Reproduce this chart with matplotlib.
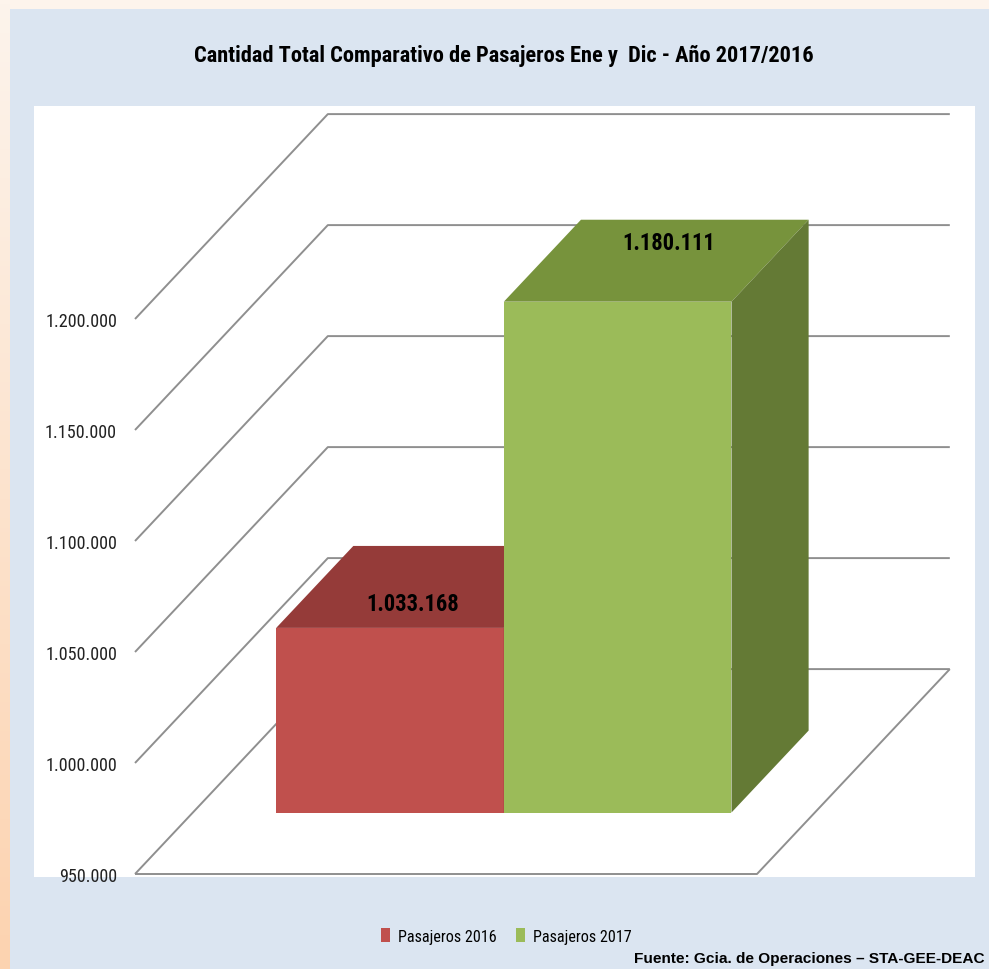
import numpy as np
import matplotlib.pyplot as plt
from matplotlib.patches import Polygon, Rectangle, Patch
from matplotlib.colors import LinearSegmentedColormap
from matplotlib import font_manager
from matplotlib.font_manager import FontProperties
from matplotlib.textpath import TextPath

# data
titulo = 'Cantidad Total Comparativo de Pasajeros Ene y  Dic - Año 2017/2016'
series = ['Pasajeros 2016', 'Pasajeros 2017']
pasajeros = [1033168, 1180111]
ticks = [950000, 1000000, 1050000, 1100000, 1150000, 1200000]
fuente = 'Fuente: Gcia. de Operaciones \u2013 STA-GEE-DEAC'

front_colors = ['#c0504d', '#9bbb59']
top_colors = ['#953b39', '#77933c']
side_colors = ['#7f2f2d', '#647a35']

# pick the narrowest installed sans (the original uses Calibri)
installed = {(f.name, f.stretch) for f in font_manager.fontManager.ttflist}
names = {n for n, _ in installed}
stretch = 'normal'
for cand in ['Liberation Sans Narrow', 'Roboto Condensed', 'Open Sans Condensed']:
    if cand in names:
        font = cand
        break
else:
    if any(n == 'DejaVu Sans' and s in ('condensed', 'semi-condensed', 600, 500)
           for n, s in installed):
        font, stretch = 'DejaVu Sans', 'condensed'
    else:
        font = 'Lato'
narrow = [font, 'DejaVu Sans']


def fit(s, px, weight='normal', fam=None):
    # font size (pt) that makes string s about px pixels wide at 100 dpi
    fp = FontProperties(family=fam or narrow, size=10, weight=weight, stretch=stretch)
    w = TextPath((0, 0), s, prop=fp).get_extents().width
    return 10 * px * 0.72 / w


def fmt(v):
    return f'{v:,}'.replace(',', '.')


# fake 3d: depth shift of the floor, in data units
base = ticks[0]
DX = 0.31
DY = 92300
d0, d1 = 0.30, 0.70          # depth band used by the bars
width = 0.366
label_depth = [0.3, 0.72]     # where the value sits on the top face

fig = plt.figure(figsize=(9.89, 9.70), dpi=100)
fig.patch.set_facecolor('#fdf4ec')

# blue panel + peach strip on the left
fig.add_artist(Rectangle((10 / 989, 0), 1, 960 / 970, transform=fig.transFigure,
                         facecolor='#dbe5f1', edgecolor='none', zorder=0))
strip = fig.add_axes([0, 0, 10 / 989, 1])
peach = LinearSegmentedColormap.from_list('peach', ['#fdf4ec', '#fcd3b0'])
strip.imshow(np.linspace(0, 1, 200).reshape(-1, 1), aspect='auto', cmap=peach)
strip.axis('off')

ax = fig.add_axes([34 / 989, 92 / 970, 941 / 989, 771 / 970])
ax.set_facecolor('white')
ax.set_xlim(-0.1624, 1.3505)
ax.set_ylim(948650, 1295950)

# walls: gridlines run front-left -> back-left -> back-right
grid_kw = dict(color='#8f8f8f', lw=1.4, zorder=1, solid_capstyle='butt')
for v in ticks:
    ax.plot([0, DX, 1 + DX], [v, v + DY, v + DY], **grid_kw)
# floor outline
ax.plot([0, 1, 1 + DX], [base, base, base + DY], **grid_kw)

# bars
lab_size = fit('1.033.168', 90, 'bold')
for i, val in enumerate(pasajeros):
    x0 = 0.5 - width + i * width
    x1 = x0 + width
    ax.bar(x0 + d0 * DX, val - base, width=width, bottom=base + d0 * DY,
           align='edge', color=front_colors[i], zorder=3 + i)
    top = [(x0 + d0 * DX, val + d0 * DY), (x1 + d0 * DX, val + d0 * DY),
           (x1 + d1 * DX, val + d1 * DY), (x0 + d1 * DX, val + d1 * DY)]
    ax.add_patch(Polygon(top, closed=True, facecolor=top_colors[i],
                         edgecolor='none', zorder=3 + i))
    side = [(x1 + d0 * DX, base + d0 * DY), (x1 + d1 * DX, base + d1 * DY),
            (x1 + d1 * DX, val + d1 * DY), (x1 + d0 * DX, val + d0 * DY)]
    ax.add_patch(Polygon(side, closed=True, facecolor=side_colors[i],
                         edgecolor='none', zorder=3 + i))
    f = d0 + label_depth[i] * (d1 - d0)
    ax.text((x0 + x1) / 2 + f * DX - 0.008 * i, val + f * DY, fmt(val),
            ha='center', va='center', fontsize=lab_size, fontweight='bold',
            family=narrow, fontstretch=stretch, color='black', zorder=10)

# y axis labels at the front-left edge
ax.spines['left'].set_position(('data', 0))
for s in ax.spines.values():
    s.set_visible(False)
ax.set_xticks([])
ax.set_yticks(ticks)
ax.set_yticklabels([fmt(t) for t in ticks], family=narrow, fontstretch=stretch,
                   fontsize=fit('1.200.000', 70), color='#222222')
ax.tick_params(axis='y', length=0, pad=13)

fig.text(503.5 / 989, 1 - 56 / 970, titulo, ha='center', va='center',
         fontsize=fit(titulo, 617, 'bold'), fontweight='bold', family=narrow,
         fontstretch=stretch, color='black')

handles = [Patch(facecolor=c, edgecolor='none') for c in front_colors]
fig.legend(handles, series, loc='center', bbox_to_anchor=(506 / 989, 1 - 937 / 970),
           ncol=2, frameon=False,
           prop={'family': narrow, 'stretch': stretch,
                 'size': fit(series[0], 97)},
           handlelength=0.6, handleheight=0.9, handletextpad=0.45,
           columnspacing=1.2)

fig.text(634 / 989, 1 - 959 / 970, fuente, ha='left', va='center',
         fontsize=fit(fuente, 350, 'bold', ['Liberation Sans', 'DejaVu Sans']),
         fontweight='bold', family=['Liberation Sans', 'DejaVu Sans'],
         color='black')

fig.savefig('out.png', dpi=100)
